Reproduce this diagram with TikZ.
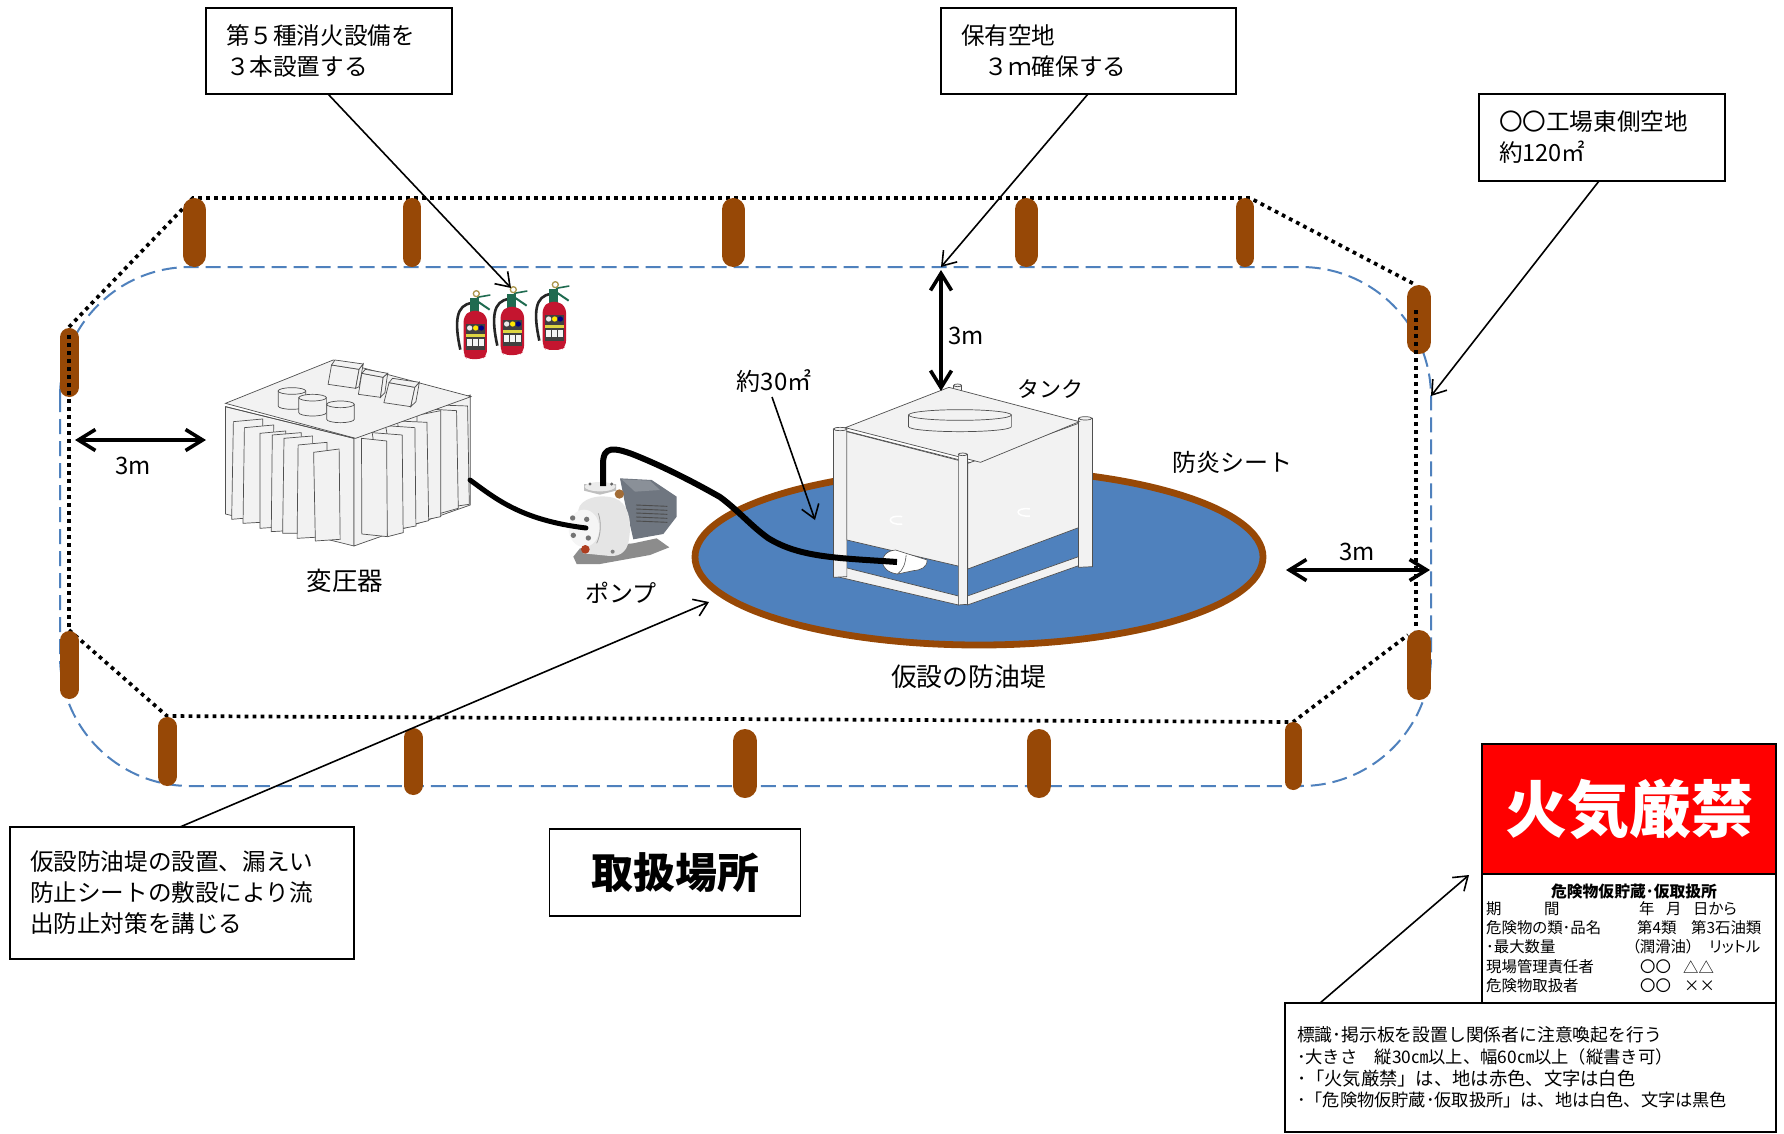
\documentclass[tikz,border=0pt]{standalone}
\usepackage{fontspec}
\setmainfont{Noto Sans CJK JP}
\newfontfamily\propfont[RawFeature=+palt]{Noto Sans CJK JP}
\usetikzlibrary{arrows.meta}
\definecolor{postbrown}{HTML}{974806}
\definecolor{sheetblue}{HTML}{4F81BD}
\definecolor{lightface}{HTML}{F2F2F2}
\definecolor{edgegray}{HTML}{505050}
\definecolor{exred}{HTML}{C4152F}
\definecolor{exgreen}{HTML}{1F6B50}
\definecolor{motorgray}{HTML}{6F7680}
\definecolor{motorlight}{HTML}{8A9098}
\newcommand\pxf[2]{\fontsize{#1}{#2}\selectfont}
\newcommand\fencepost[4]{\draw[postbrown,line width=#2pt,line cap=round] (#1,{#3+#2/2}) -- (#1,{#4-#2/2});}
\newcommand\finpoly[8]{\filldraw[fill=lightface,draw=edgegray,line width=0.7pt] (#1,#2) -- (#3,#4) -- (#5,#6) -- (#7,#8) -- cycle;}
\newcommand\topcyl[3]{%
  \filldraw[fill=lightface,draw=edgegray,line width=0.7pt] (#1-40,#2) -- (#1-40,#2+45) arc[start angle=180,end angle=0,x radius=40,y radius=10] -- (#1+40,#2) -- cycle;
  \filldraw[fill=lightface,draw=edgegray,line width=0.7pt] (#1,#2) ellipse[x radius=40,y radius=10];}
\newcommand\fireext[2]{%
\begin{scope}[shift={(#1,#2)},x=0.3333pt,y=-0.3333pt]
  \draw[black!85,line width=2.6pt] (178,72) .. controls (128,76) and (124,130) .. (142,212);
  \fill[exgreen] (172,58) rectangle (198,100);
  \draw[exgreen,line width=2pt] (186,62) -- (230,92);
  \draw[exgreen,line width=1.6pt] (192,55) -- (232,48);
  \draw[black!45!yellow!60!brown,line width=1.3pt] (190,44) circle[x radius=9,y radius=9];
  \fill[exred,rounded corners=5pt] (152,112) -- (172,95) -- (200,95) -- (222,112) -- (222,228) -- (208,240) -- (162,240) -- (152,228) -- cycle;
  \fill[black!75] (160,135) rectangle (216,212);
  \fill[white!85!gray] (170,147) circle[x radius=8,y radius=8];
  \fill[yellow!90!orange] (188,147) circle[x radius=8,y radius=8];
  \fill[blue!50!black] (205,147) circle[x radius=8,y radius=8];
  \fill[yellow!70!gray] (160,166) rectangle (216,174);
  \fill[white!92!gray] (163,180) rectangle (178,200);
  \fill[white!92!gray] (181,180) rectangle (196,200);
  \fill[white!92!gray] (199,180) rectangle (214,200);
\end{scope}}
\tikzset{
  notebox/.style={draw=black,line width=1.8pt,fill=white,inner ysep=0pt,inner xsep=20pt,align=left,anchor=center,font=\pxf{23.6}{31}},
  thinarrow/.style={draw=black,line width=1.6pt,-{Straight Barb[length=13pt,width=18pt]}},
  thickarrow/.style={draw=black,line width=3.6pt,{Straight Barb[length=17pt,width=21pt]}-{Straight Barb[length=17pt,width=21pt]}},
  hoseline/.style={draw=black,line width=5pt,line cap=round},
  label/.style={inner sep=0pt,anchor=center,font=\pxf{24}{30}},
  dots/.style={draw=black,line width=3.7pt,dash pattern=on 3.7pt off 4.3pt},
  signtext/.style={inner sep=0pt,anchor=west,font=\propfont\pxf{15.4}{18}},
  edgefill/.style={fill=lightface,draw=edgegray,line width=0.7pt},
}
\begin{document}
\begin{tikzpicture}[x=1pt,y=-1pt]
\useasboundingbox (0,0) rectangle (1784,1133);
\fill[white] (0,0) rectangle (1784,1133);

% safety boundary
\draw[sheetblue,line width=2pt,dash pattern=on 15pt off 7pt,rounded corners=130pt] (60,267) rectangle (1431,786);

% fence, diagonal and horizontal runs
\draw[dots] (69,327) -- (193,198) -- (1250,198) -- (1416,285);
\draw[dots] (69,630) -- (167,716) -- (1293,722) -- (1408,635);

\fencepost{194.5}{23.5}{198}{267}
\fencepost{412}{18}{198}{267}
\fencepost{733}{23}{198}{267}
\fencepost{1026}{23}{198}{267}
\fencepost{1245}{18}{198}{267}
\fencepost{1419}{24}{285}{354}
\fencepost{69}{19}{328}{397}
\fencepost{69}{19}{631}{699}
\fencepost{1419}{24}{630}{700}
\fencepost{167}{19}{717}{786}
\fencepost{413}{19}{728}{795}
\fencepost{745}{24}{729}{798}
\fencepost{1039}{24}{729}{798}
\fencepost{1293}{17}{722}{790}

% fence, vertical runs
\draw[dots] (69,335) -- (69,630);
\draw[dots] (1416,310) -- (1416,630);

% transformer
\begin{scope}[shift={(180,260)},x=0.3444pt,y=-0.3333pt]
  \filldraw[edgefill] (132,440) -- (505,535) -- (505,858) -- (132,762) -- cycle;
  \filldraw[edgefill] (505,535) -- (843,405) -- (843,735) -- (505,858) -- cycle;
  \finpoly{155}{485}{240}{477}{240}{770}{150}{778}
  \finpoly{187}{503}{272}{495}{270}{785}{183}{790}
  \finpoly{232}{520}{307}{513}{305}{800}{232}{805}
  \finpoly{268}{525}{352}{518}{350}{810}{265}{815}
  \finpoly{302}{535}{385}{528}{385}{820}{298}{820}
  \finpoly{343}{555}{427}{547}{427}{830}{340}{835}
  \finpoly{388}{577}{462}{567}{465}{838}{393}{843}
  \finpoly{750}{435}{835}{438}{840}{733}{757}{745}
  \finpoly{718}{447}{803}{452}{808}{745}{722}{770}
  \finpoly{688}{466}{757}{452}{757}{770}{688}{785}
  \finpoly{632}{483}{717}{487}{722}{782}{650}{800}
  \finpoly{597}{497}{682}{503}{685}{798}{648}{805}
  \finpoly{558}{518}{645}{525}{648}{818}{603}{830}
  \finpoly{527}{535}{600}{543}{602}{830}{528}{822}
  \filldraw[edgefill] (132,430) -- (445,300) -- (845,410) -- (510,535) -- cycle;
  \draw[edgegray,line width=0.7pt] (132,440) -- (505,535);
  \filldraw[edgefill] (440,315) -- (520,328) -- (510,385) -- (430,373) -- cycle;
  \filldraw[edgefill] (440,315) -- (450,300) -- (532,312) -- (520,328) -- cycle;
  \filldraw[edgefill] (520,328) -- (532,312) -- (520,380) -- (510,385) -- cycle;
  \filldraw[edgefill] (528,340) -- (590,352) -- (582,412) -- (518,403) -- cycle;
  \filldraw[edgefill] (528,340) -- (538,328) -- (603,340) -- (590,352) -- cycle;
  \filldraw[edgefill] (590,352) -- (603,340) -- (595,398) -- (582,412) -- cycle;
  \filldraw[edgefill] (607,368) -- (682,382) -- (670,440) -- (592,428) -- cycle;
  \filldraw[edgefill] (607,368) -- (617,355) -- (695,367) -- (682,382) -- cycle;
  \filldraw[edgefill] (682,382) -- (695,367) -- (685,425) -- (670,440) -- cycle;
  \topcyl{325}{393}{}
  \topcyl{385}{413}{}
  \topcyl{466}{433}{}
\end{scope}

% extinguishers
\fireext{413}{279}
\fireext{450}{275}
\fireext{492}{270}

% bund
\filldraw[fill=sheetblue,draw=postbrown,line width=6.8pt] (979,557) ellipse[x radius=284,y radius=88];

% tank
\begin{scope}[shift={(680,360)},x=0.3954pt,y=-0.3333pt]
  \filldraw[edgefill] (692,76) -- (692,95) -- (712,95) -- (712,76) -- cycle;
  \filldraw[edgefill] (702,76) ellipse[x radius=10,y radius=4];
  \filldraw[edgefill] (402,618) -- (704,708) -- (704,735) -- (390,648) -- cycle;
  \filldraw[edgefill] (727,708) -- (1008,590) -- (1008,617) -- (727,735) -- cycle;
  \filldraw[edgefill] (388,207) -- (422,207) -- (422,650) -- (388,652) -- cycle;
  \filldraw[edgefill] (405,207) ellipse[x radius=17,y radius=5];
  \filldraw[edgefill] (1008,175) -- (1043,175) -- (1043,620) -- (1008,622) -- cycle;
  \filldraw[edgefill] (1025,175) ellipse[x radius=17,y radius=5];
  \filldraw[edgefill] (422,215) -- (740,312) -- (728,625) -- (422,540) -- cycle;
  \filldraw[edgefill] (728,310) -- (1008,190) -- (1008,503) -- (728,627) -- cycle;
  \filldraw[edgefill] (418,203) -- (680,82) -- (1010,185) -- (760,307) -- cycle;
  \draw[edgegray,line width=0.7pt] (420,213) -- (735,308);
  \filldraw[edgefill] (578,165) -- (578,200) arc[start angle=180,end angle=0,x radius=130,y radius=15] -- (838,165) -- cycle;
  \filldraw[edgefill] (708,165) ellipse[x radius=130,y radius=16];
  \filldraw[edgefill] (704,283) -- (727,283) -- (727,733) -- (704,735) -- cycle;
  \filldraw[edgefill] (715,283) ellipse[x radius=11,y radius=4];
  \draw[white,line width=1.5pt] (562,470) .. controls (522,462) and (522,497) .. (562,492);
  \draw[white,line width=1.5pt] (885,447) .. controls (845,440) and (845,472) .. (885,468);
  \filldraw[fill=white,draw=edgegray,line width=0.6pt] (545,570) -- (625,600) .. controls (625,622) and (610,630) .. (590,632) -- (550,642) .. controls (500,635) and (500,575) .. (545,570) -- cycle;
  \draw[edgegray,line width=0.6pt] (572,585) .. controls (570,610) and (565,630) .. (550,642);
\end{scope}

% hoses
\coordinate (hoseTankEnd) at (897,562);
\coordinate (hosePumpTop) at (603,486);
\coordinate (hosePumpSide) at (586,528);
\coordinate (hoseXfmr) at (470,480);

% pump
\begin{scope}[shift={(560,460)},x=0.3333pt,y=-0.3333pt]
  \fill[black!45] (40,290) -- (60,265) -- (220,250) -- (290,235) -- (328,262) -- (270,285) -- (120,312) -- (50,312) -- cycle;
  \fill[motorgray] (180,55) -- (275,60) -- (350,110) -- (350,170) -- (310,222) -- (220,238) -- (195,130) -- cycle;
  \fill[motorlight] (185,58) -- (270,62) -- (300,90) -- (225,95) -- cycle;
  \foreach \ry in {135,147,159,171,183}
    \draw[black!70,line width=0.9pt] (228,\ry) -- (322,{\ry+4});
  \fill[black!10] (55,150) .. controls (60,115) and (120,100) .. (165,115) .. controls (205,130) and (215,180) .. (208,230) .. controls (205,270) and (185,290) .. (150,288) -- (70,280) -- cycle;
  \fill[black!4] (72,205) ellipse[x radius=46,y radius=56];
  \fill[black!55] (38,174) circle[radius=8];
  \fill[black!55] (80,178) circle[radius=8];
  \fill[black!55] (40,226) circle[radius=8];
  \fill[black!55] (85,234) circle[radius=8];
  \draw[black!35,line width=0.8pt] (115,160) .. controls (125,190) and (122,225) .. (110,250);
  \fill[black!25] (72,72) -- (168,72) -- (168,92) -- (120,104) -- (72,92) -- cycle;
  \fill[black!8] (120,80) ellipse[x radius=46,y radius=14];
  \fill[black!60] (90,72) circle[radius=5];
  \fill[black!60] (155,72) circle[radius=5];
  \fill[brown!85!black] (178,102) circle[radius=14];
  \fill[brown!60!red!80!black] (76,268) circle[radius=13];
  \fill[black!50] (158,275) circle[radius=6];
\end{scope}

\draw[hoseline,line width=5pt] (hoseXfmr) .. controls (495,498) and (520,520) .. (hosePumpSide);
\draw[hoseline,line width=6pt,line cap=butt] (hosePumpTop) -- (603,464) .. controls (603,445) and (615,448) .. (632,454) .. controls (660,465) and (690,480) .. (720,497) .. controls (740,512) and (750,525) .. (768,538) .. controls (800,558) and (840,558) .. (hoseTankEnd);

% notes
\node[notebox,minimum width=246pt,minimum height=86pt,text width=206pt] (fireNote) at (329,51) {第５種消火設備を\\３本設置する};
\node[notebox,minimum width=295pt,minimum height=86pt,text width=255pt] (spaceNote) at (1088.5,51) {保有空地\\　３ｍ確保する};
\node[notebox,minimum width=246pt,minimum height=87pt,text width=206pt] (siteNote) at (1602,137.5) {〇〇工場東側空地\\約120㎡};
\node[notebox,minimum width=344pt,minimum height=132pt,text width=304pt] (bundNote) at (182,893) {仮設防油堤の設置、漏えい\\防止シートの敷設により流\\出防止対策を講じる};
\node[notebox,inner xsep=0pt,minimum width=251pt,minimum height=87pt,align=center,font=\pxf{42}{50}\bfseries] (areaLabel) at (675,872.5) {取扱場所};

% note connectors
\coordinate (fireFrom) at (328,94);
\coordinate (fireTip) at (511,288);
\coordinate (spaceFrom) at (1088,94);
\coordinate (spaceTip) at (941,267);
\coordinate (siteFrom) at (1599,181);
\coordinate (siteTip) at (1431,396);
\coordinate (bundFrom) at (180,827);
\coordinate (bundTip) at (709,602);
\draw[thinarrow] (fireFrom) -- (fireTip);
\draw[thinarrow] (spaceFrom) -- (spaceTip);
\draw[thinarrow] (siteFrom) -- (siteTip);
\draw[thinarrow] (bundFrom) -- (bundTip);

% dimension arrows
\coordinate (dimTopA) at (941,270);
\coordinate (dimTopB) at (941,391);
\coordinate (dimLeftA) at (75,440);
\coordinate (dimLeftB) at (206,440);
\coordinate (dimRightA) at (1286,570);
\coordinate (dimRightB) at (1430,570);
\draw[thickarrow] (dimTopA) -- (dimTopB);
\draw[thickarrow] (dimLeftA) -- (dimLeftB);
\draw[thickarrow] (dimRightA) -- (dimRightB);

% labels
\node[label] (dimTopText) at (966,336) {3m};
\node[label] (dimLeftText) at (133,466) {3m};
\node[label] (dimRightText) at (1357,552) {3m};
\node[label,font=\pxf{22}{28}] (tankText) at (1050,389) {タンク};
\node[label] (areaText) at (774,381) {約30㎡};
\node[label] (sheetText) at (1232,462) {防炎シート};
\node[label,font=\pxf{25.5}{30}] (xfmrText) at (345,581) {変圧器};
\node[label] (pumpText) at (621,593) {ポンプ};
\node[label,font=\pxf{25.8}{30}] (bundText) at (968.5,677) {仮設の防油堤};
\coordinate (areaFrom) at (772,397);
\coordinate (areaTip) at (815,520);
\draw[thinarrow] (areaFrom) -- (areaTip);

% sign
\node[draw=black,line width=2.6pt,fill=red,text=white,minimum width=294pt,minimum height=130pt,inner sep=0pt,font=\pxf{62}{70}\bfseries] (signRed) at (1629,809) {火気厳禁};
\node[draw=black,line width=2.6pt,fill=white,minimum width=294pt,minimum height=129pt,inner sep=0pt] (signWhite) at (1629,938.5) {};
\node[inner sep=0pt,font=\pxf{15.8}{18}\bfseries] (signTitle) at (1634,891) {危険物仮貯蔵･仮取扱所};
\node[signtext] (sA1) at (1486,909) {期};
\node[signtext] (sA2) at (1544,909) {間};
\node[signtext] (sA3) at (1639,909) {年};
\node[signtext] (sA4) at (1666,909) {月};
\node[signtext] (sA5) at (1693,909) {日から};
\node[signtext] (sB1) at (1486,928) {危険物の類･品名};
\node[signtext] (sB2) at (1637,928) {第4類};
\node[signtext] (sB3) at (1691,928) {第3石油類};
\node[signtext] (sC1) at (1486,947) {･最大数量};
\node[signtext] (sC2) at (1632,947) {（潤滑油）};
\node[signtext] (sC3) at (1709,947) {リットル};
\node[signtext] (sD1) at (1486,967) {現場管理責任者};
\node[signtext] (sD2) at (1640,967) {〇〇};
\node[signtext] (sD3) at (1683,967) {△△};
\node[signtext] (sE1) at (1486,986) {危険物取扱者};
\node[signtext] (sE2) at (1640,986) {〇〇};
\node[signtext] (sE3) at (1684,986) {××};

\coordinate (signFrom) at (1320,1003);
\coordinate (signTip) at (1469,875);
\node[draw=black,line width=2.6pt,fill=white,minimum width=491pt,minimum height=129pt,inner xsep=12pt,inner ysep=0pt,text width=467pt,align=left,font=\pxf{17.6}{21.7}] (signNote) at (1530.5,1067.5) {\pxf{17.8}{21.7}標識･掲示板を設置し関係者に注意喚起を行う\\\pxf{17.3}{21.7}･大きさ　縦30㎝以上、幅60㎝以上（縦書き可）\\\pxf{18.3}{21.7}･「火気厳禁」は、地は赤色、文字は白色\\\pxf{17.2}{21.7}･「危険物仮貯蔵･仮取扱所」は、地は白色、文字は黒色};
\draw[thinarrow] (signFrom) -- (signTip);
\end{tikzpicture}
\end{document}
